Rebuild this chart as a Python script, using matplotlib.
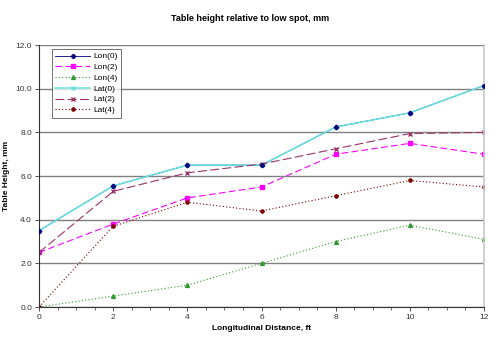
import matplotlib

matplotlib.use("Agg")

import matplotlib.pyplot as plt
from matplotlib.ticker import MultipleLocator

plt.rcParams["font.family"] = ["Liberation Sans", "DejaVu Sans"]

# Datos
distance = [0, 2, 4, 6, 8, 10, 12]
lon0 = [3.5, 5.55, 6.5, 6.5, 8.25, 8.9, 10.15]
lon2 = [2.5, 3.8, 5.0, 5.5, 7.0, 7.5, 7.0]
lon4 = [0.0, 0.5, 1.0, 2.0, 3.0, 3.75, 3.1]
lat0 = [3.5, 5.55, 6.5, 6.5, 8.25, 8.9, 10.15]
lat2 = [2.5, 5.3, 6.15, 6.55, 7.25, 7.95, 8.0]
lat4 = [0.0, 3.7, 4.8, 4.4, 5.1, 5.8, 5.5]

C_LON0 = "#000080"
C_LON2 = "#ff00ff"
C_LON4 = "#339933"
C_LAT0 = "#66e0e0"
C_LAT2 = "#993366"
C_LAT4 = "#800000"

fig = plt.figure(figsize=(5, 3.37), dpi=100)
ax = fig.add_axes([0.078, 0.089, 0.89, 0.777])

ax.plot(distance, lon0, color=C_LON0, lw=0.6, marker="D", ms=2.2, label="Lon(0)")
ax.plot(distance, lon2, color=C_LON2, lw=0.8, ls=(0, (6, 3)), marker="s", ms=2.8, label="Lon(2)")
ax.plot(distance, lon4, color=C_LON4, lw=0.8, ls=(0, (1, 2)), marker="^", ms=2.8, label="Lon(4)")
ax.plot(distance, lat0, color=C_LAT0, lw=1.1, marker="x", ms=2.2, mec=C_LAT0, label="Lat(0)")
ax.plot(distance, lat2, color=C_LAT2, lw=0.8, ls=(0, (8, 3)), marker="x", ms=2.2, label="Lat(2)")
ax.plot(distance, lat4, color=C_LAT4, lw=0.8, ls=(0, (1, 2)), marker="o", ms=2.3, label="Lat(4)")
# los rombos de Lon(0) quedan visibles sobre la linea cian
ax.plot(distance, lon0, ls="none", color=C_LON0, marker="D", ms=2.2, zorder=3)

ax.set_xlim(0, 12)
ax.set_ylim(0, 12)
ax.xaxis.set_major_locator(MultipleLocator(2))
ax.xaxis.set_minor_locator(MultipleLocator(0.5))
ax.yaxis.set_major_locator(MultipleLocator(2))
ax.yaxis.set_major_formatter(matplotlib.ticker.FormatStrFormatter("%.1f"))
ax.tick_params(labelsize=6, length=3, width=0.6, color="#333333", labelcolor="#333333", pad=2)
ax.tick_params(which="minor", length=2, width=0.5, color="#333333")
ax.grid(axis="y", color="#808080", lw=1.0)
ax.set_axisbelow(True)

ax.spines["top"].set_visible(False)
ax.spines["right"].set_color("#c8c8c8")
ax.spines["right"].set_linewidth(1.2)
ax.spines["left"].set_color("#333333")
ax.spines["bottom"].set_color("#333333")
ax.spines["left"].set_linewidth(0.8)
ax.spines["bottom"].set_linewidth(0.8)

ax.set_xlabel("Longitudinal Distance, ft", fontsize=6, fontweight="bold", labelpad=3)
ax.set_ylabel("Table Height, mm", fontsize=6, fontweight="bold", labelpad=4)
fig.text(0.5, 0.945, "Table height relative to low spot, mm", ha="center", va="center",
         fontsize=6.5, fontweight="bold")

leg = ax.legend(loc="upper left", bbox_to_anchor=(0.02, 1.0), fontsize=6, frameon=True,
                fancybox=False, edgecolor="#333333", handlelength=4.2, labelspacing=0.35,
                borderpad=0.4, handletextpad=0.4)
leg.get_frame().set_linewidth(0.6)

fig.savefig("out.png", dpi=100, facecolor="white")
